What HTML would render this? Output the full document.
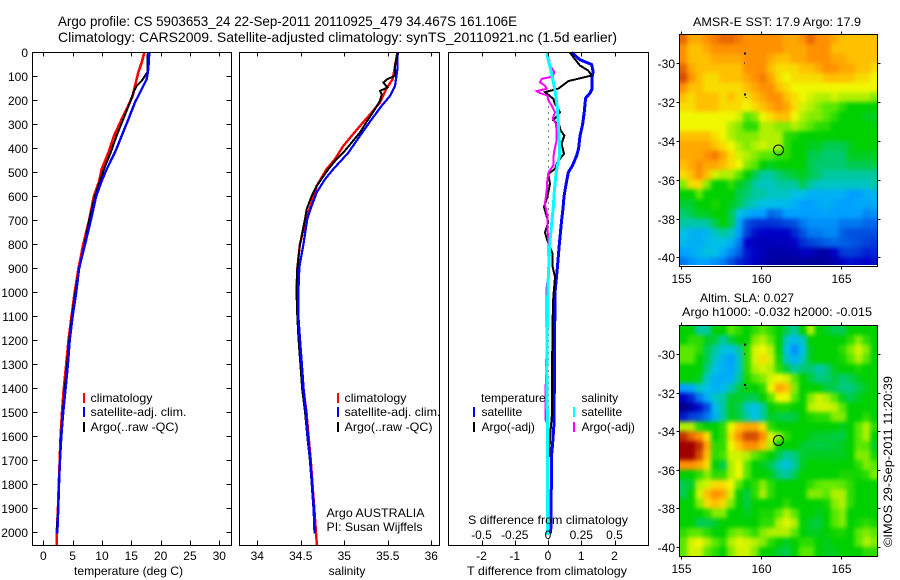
<!DOCTYPE html>
<html lang="en">
<head>
<meta charset="utf-8">
<title>Argo profile</title>
<style>
html,body{margin:0;padding:0;background:#fff;}
svg{display:block;font-family:"Liberation Sans",sans-serif;}
text{fill:#000;font-size:12px;}
.title{font-size:14px;}
.crisp{shape-rendering:crispEdges;}
</style>
</head>
<body>
<svg id="chart" xmlns="http://www.w3.org/2000/svg" width="900" height="580" viewBox="0 0 900 580">
<defs>
<filter id="map-smooth" filterUnits="userSpaceOnUse" x="650" y="10" width="250" height="565" color-interpolation-filters="sRGB">
<feGaussianBlur stdDeviation="2"/>
</filter>
<clipPath id="sst-clip"><rect x="680" y="35" width="197" height="230"/></clipPath>
<clipPath id="sla-clip"><rect x="680" y="326" width="197" height="230"/></clipPath>
</defs>
<rect x="0" y="0" width="900" height="580" fill="#fff"/>
<text class="title" x="58" y="26" textLength="459" lengthAdjust="spacingAndGlyphs">Argo profile: CS 5903653_24 22-Sep-2011 20110925_479 34.467S 161.106E</text>
<text class="title" x="58" y="42" textLength="559" lengthAdjust="spacingAndGlyphs">Climatology: CARS2009. Satellite-adjusted climatology: synTS_20110921.nc (1.5d earlier)</text>
<g id="marks"></g>

<text x="74" y="575" textLength="109" lengthAdjust="spacingAndGlyphs">temperature (deg C)</text>
<text x="347" y="575" text-anchor="middle">salinity</text>
<text x="467" y="575" textLength="160" lengthAdjust="spacingAndGlyphs">T difference from climatology</text>
<text x="468" y="524" textLength="160" lengthAdjust="spacingAndGlyphs">S difference from climatology</text>

<g class="crisp">
<rect x="83" y="393" width="2" height="10" fill="#f00"/>
<rect x="83" y="407" width="2" height="10" fill="#00f"/>
<rect x="83" y="422" width="2" height="10" fill="#000"/>
</g>
<text x="90.5" y="402" textLength="62" lengthAdjust="spacingAndGlyphs">climatology</text>
<text x="90.5" y="416" textLength="96" lengthAdjust="spacingAndGlyphs">satellite-adj. clim.</text>
<text x="90.5" y="431" textLength="88" lengthAdjust="spacingAndGlyphs">Argo(..raw -QC)</text>

<g class="crisp">
<rect x="337" y="393" width="2" height="10" fill="#f00"/>
<rect x="337" y="407" width="2" height="10" fill="#00f"/>
<rect x="337" y="422" width="2" height="10" fill="#000"/>
</g>
<text x="344.5" y="402" textLength="62" lengthAdjust="spacingAndGlyphs">climatology</text>
<text x="344.5" y="416" textLength="96" lengthAdjust="spacingAndGlyphs">satellite-adj. clim.</text>
<text x="344.5" y="431" textLength="88" lengthAdjust="spacingAndGlyphs">Argo(..raw -QC)</text>
<text x="326.5" y="517" textLength="98" lengthAdjust="spacingAndGlyphs">Argo AUSTRALIA</text>
<text x="326.5" y="531" textLength="96" lengthAdjust="spacingAndGlyphs">PI: Susan Wijffels</text>

<text x="481" y="402">temperature</text>
<text x="581.5" y="402">salinity</text>
<g class="crisp">
<rect x="473" y="407" width="2" height="10" fill="#00f"/>
<rect x="473" y="422" width="2" height="10" fill="#000"/>
<rect x="573" y="407" width="2" height="10" fill="#0ff"/>
<rect x="573" y="422" width="2" height="10" fill="#f0f"/>
</g>
<text x="481.5" y="416">satellite</text>
<text x="481.5" y="431">Argo(-adj)</text>
<text x="581.5" y="416">satellite</text>
<text x="581.5" y="431">Argo(-adj)</text>

<text x="693" y="26" textLength="168" lengthAdjust="spacingAndGlyphs">AMSR-E SST: 17.9 Argo: 17.9</text>
<text x="700" y="302" textLength="94" lengthAdjust="spacingAndGlyphs">Altim. SLA: 0.027</text>
<text x="682" y="316" textLength="190" lengthAdjust="spacingAndGlyphs">Argo h1000: -0.032 h2000: -0.015</text>
<text transform="translate(892,547) rotate(-90)" textLength="171" lengthAdjust="spacingAndGlyphs">©IMOS 29-Sep-2011 11:20:39</text>
</svg>

<script>
// ---------- profile data ----------
const depthTicks = [0,100,200,300,400,500,600,700,800,900,1000,1100,1200,1300,1400,1500,1600,1700,1800,1900,2000];
const tempTicks = [0,5,10,15,20,25,30];
const salTicks = [34,34.5,35,35.5,36];
const salTickLabels = ['34','34.5','35','35.5','36'];
const diffTicks = [-2,-1,0,1,2];
const diffSTickLabels = ['-0.5','-0.25','0','0.25','0.5'];

const tClimDepth = [0,42,83,139,181,236,278,347,417,486,535,600,700,800,900,1000,1100,1200,1300,1400,1500,1600,1700,1800,1900,2000,2055];
const tClimValue = [17.22,16.77,16.2,15.63,15.23,14.21,13.36,12.05,11.09,9.95,9.55,8.6,7.8,6.8,6,5.35,4.8,4.3,3.9,3.5,3.19,2.95,2.8,2.65,2.5,2.3,2.3];
const tSatDepth = [0,69,111,139,167,208,278,347,417,486,535,600,700,800,900,1000,1100,1200,1300,1400,1500,1600,1700,1800,1900,2005];
const tSatValue = [18.07,17.9,17.62,17.05,16.48,15.63,14.5,13.36,12.2,10.8,9.95,9,8.1,7.1,6.1,5.6,5,4.5,4.2,3.8,3.4,3.07,2.85,2.68,2.56,2.39];
const tArgoDepth = [0,14,83,118,139,167,208,278,347,417,486,535,600,700,800,900,1000,1100,1200,1300,1400,1500,1600,1700,1800,1900,1985];
const tArgoValue = [17.9,17.73,17.73,16.77,15.91,15.35,14.78,13.64,12.5,11.48,10.35,9.66,8.8,7.8,7,6.1,5.45,4.9,4.4,4.05,3.65,3.3,3,2.82,2.65,2.52,2.3];

const sClimDepth = [0,56,111,153,208,250,306,347,389,444,486,556,625,694,800,900,1000,1100,1200,1300,1400,1500,1600,1700,1800,1900,2000,2055];
const sClimValue = [35.61,35.583,35.556,35.48,35.41,35.315,35.18,35.085,34.989,34.893,34.797,34.683,34.625,34.56,34.49,34.46,34.45,34.47,34.49,34.51,34.53,34.565,34.59,34.615,34.635,34.655,34.675,34.685];
const sSatDepth = [0,69,139,181,222,278,347,417,486,528,583,639,694,800,900,1000,1100,1200,1300,1400,1500,1600,1700,1800,1900,2005];
const sSatValue = [35.614,35.61,35.583,35.525,35.43,35.315,35.18,35.047,34.874,34.778,34.683,34.625,34.575,34.53,34.48,34.47,34.47,34.49,34.51,34.53,34.56,34.58,34.61,34.63,34.65,34.66];
const sArgoDepth = [0,56,97,111,125,146,160,174,201,236,278,333,375,417,444,486,556,597,653,694,800,900,1000,1100,1200,1300,1400,1500,1600,1700,1800,1900,1985];
const sArgoValue = [35.614,35.583,35.583,35.495,35.449,35.495,35.41,35.43,35.41,35.353,35.276,35.18,35.085,34.989,34.912,34.817,34.683,34.625,34.568,34.548,34.49,34.46,34.45,34.46,34.475,34.495,34.515,34.55,34.575,34.605,34.625,34.645,34.66];

const dtSatDepth = [0,30,50,80,100,150,170,190,250,300,350,400,430,470,500,550,600,650,700,800,900,1000,1200,1400,1547,1623,1672,2005];
const dtSatValue = [0.71,0.96,1.31,1.36,1.33,1.33,1.26,1.13,1.09,1.04,0.96,0.92,0.86,0.74,0.61,0.54,0.48,0.45,0.41,0.34,0.28,0.21,0.2,0.19,0.18,0.14,0.11,0.08];
const dtArgoDepth = [0,19,54,75,96,119,151,165,193,214,249,283,304,325,346,381,422,457,485,506,547,603,644,707,749,783,839,894,936,1019,1100,1325,1506,1603,1686];
const dtArgoValue = [0.66,0.76,0.96,1.21,1.31,0.61,0.31,-0.09,0.16,0.21,0.36,0.16,0.34,0.38,0.49,0.41,0.48,0.28,0.21,0.01,0.06,-0.02,-0.12,0.01,-0.09,-0.02,0.14,0.14,0.21,0.16,0.14,0.12,0.12,0.06,0.04];
const dsArgoDepth = [3,33,54,82,100,110,124,138,151,161,169,179,200,221,249,276,297,332,367,408,436,471,499,533,575,631,679,728,783,839,922,978,1033,1200,1320,1420,1530,1560,1650];
const dsArgoValue = [-0.005,0.01,0.015,0.048,0.035,-0.048,-0.06,-0.023,-0.01,-0.085,-0.06,-0.005,0.003,0.028,0.053,0.035,0.06,0.065,0.065,0.048,0.04,0.04,0.003,-0.005,-0.01,-0.023,-0.005,-0.005,0.003,0.003,0.003,-0.01,-0.01,-0.01,-0.015,-0.018,-0.018,0.003,0.003];
const dsSatDepth = [3,89,158,228,297,367,436,471,506,575,644,714,783,922,1033,1325,1500,2010];
const dsSatValue = [-0.01,0.028,0.053,0.07,0.078,0.085,0.085,0.07,0.06,0.048,0.04,0.028,0.015,0.003,-0.003,-0.01,-0.005,-0.005];

// ---------- map data: colour level per half-degree cell, rows north to south ----------
const lonTicks = [155,160,165];
const latTicks = [-30,-32,-34,-36,-38,-40];
const mapRowsLat0 = -28.5;
const mapColsLon0 = 154.87;
const cellDeg = 0.5;
const argoLon = 161.1;
const argoLat = -34.47;
const islandLon = [159,159,159,159.1];
const islandLat = [-29.5,-30,-31.6,-31.8];

const sstGrid = [
[12,10.5,10.5,11,11.5,12,12,11.5,11,11,11,11,11,10.5,10.5,11,12,11,11,10.5,10,10,10,10,10],
[11,10,10,10.5,11,11,11,11,11,11,11,11,11,10.5,10.5,10.5,11,11,11,10,10,10,10,10,10],
[11,10,10,10,10.5,10.5,10.5,10.5,11,11,11,10.5,10,10,10.5,10.5,11,11,11,10.5,10.5,10,10,10,10],
[12,10.5,10,10,10,10,10,10,11,11,11,10,9.5,9.5,9.5,10,10,10.5,11,11,10.5,10.5,10,10,9.5],
[12.5,11,10,9.5,9.5,10,10,10,10.5,11,11.5,10.5,9.5,9,9.5,9.5,9.5,9.5,10,10,10,10,9.5,9.5,9],
[11,10,10,9.5,9.5,9.5,9.5,9.5,10,10.5,11,11,10,9.5,9,9,9,9,9,9,9,9,9,9,9],
[10,9.5,10,10,10,9.5,10,9.5,9.5,10,10.5,11,11,10,9.5,9,8.5,8,8,8.5,8,8,8,8,7.5],
[9.5,9.5,10,10,10,9.5,9.5,9.5,9,9.5,10,10.5,11,10.5,9.5,8.5,8,7.5,7,7,6.5,6,6,6,6],
[9,9,9,9,9,9,9,8.5,7,7.5,9,9.5,10,10,9,8,7.5,7.5,7,6.5,6,6,6,5.8,5.8],
[9,9,9,9,9,9,8,7.5,6.5,6.5,8,8,7.5,7.5,8,7.5,7,6.5,6.5,6,6,6,6,6,6],
[10,10,10,10,9.5,9,8,7.5,7.5,7.5,8,8,8,6.5,6.3,6,6,6,6,6,6,6,6,6,6],
[10.5,10.5,10.5,10.5,10,9.5,9,8,7.5,8,8.5,8,8,6.5,6,6,5.8,5.8,5.5,5.5,5.5,5.8,6,6,6],
[10.5,10.5,10.5,11,11.5,10.5,9.5,8.5,8,7.5,7,7,6.5,6.5,6,6,5.5,5.5,5.3,5.3,5.3,5.8,5.8,5.8,5.8],
[10,10.5,11,10.5,10.5,10,9.5,9,7.5,7,6,5.8,6,6,6,6,5.5,5.3,5.3,5.3,5.3,5.5,5.5,5.5,5.5],
[9.5,10,11,10,8.5,8,8,7,6,5.5,5,5,5.3,5.5,5.7,5.8,5.5,5.3,5,5,5,5,5,5,5],
[7.5,9.5,9.5,7.5,6,6,6.5,5.8,5.5,5,4.5,4.5,5,5,5,5.5,5,4.5,4.5,4.5,4.5,4.5,4.5,4.5,5],
[6,6,7,6,6,6,6,5.5,5.3,5,5,4.5,4.5,4.5,4,4,3.5,3.5,3.5,3.5,3.5,3,3,3.5,3.5],
[5.7,5.7,6,6,6.3,6,5.8,5.5,5,4.5,4,4,3.8,3.8,3.5,3,3,3.3,3.5,3.2,3,3,3.3,3.2,3.3],
[5.3,5.5,5.8,5.8,6,6,5.5,4,3.5,3,3,2.3,2.5,3,3,3,3,3,3.2,3,3,3,3,2.7,2.8],
[5,4.8,4.8,5,5.5,6,5.5,3.3,2,1.7,1.6,1.6,1.7,1.9,2,2.5,2.8,2.8,2.8,2.8,2.5,2.5,2.5,2.3,2.3],
[4,3.6,3.5,3.7,4.5,5,4.5,3,1.8,1.2,1,1,1,1,1.5,2,2.5,2.5,2.7,2.7,2.2,2,2,2,2],
[3.8,3.5,3.4,3.8,4,4,3.5,2.6,1,0.8,0.7,0.8,0.8,0.8,1,1.6,1.8,2,2.2,2.3,2.2,2.1,2,1.8,1.7],
[3,3.3,3.7,4.2,4,3.3,2.7,2.2,1.3,1,0.8,0.5,0.5,0.5,0.6,0.9,0.8,0.4,0.5,1,1.7,1.8,1.7,1.4,1.5],
[2.5,2.8,3.1,3,2.8,2.6,2,1.5,1.2,0.9,0.6,0.4,0.3,0.3,0.3,0.3,0.3,0.2,0.3,0.5,0.9,1.2,1.1,1,1.2]
];

const slaGrid = [
[6,6,5,5,6,6,7,6.5,6,6.5,7,6.5,6,5.5,5,6,8,6,5.8,5.5,5.5,6,6,6,6],
[6,6.5,6.5,5.8,5.6,5,5.6,6,6,7.5,8,7,6,4.5,3.8,4.5,6,6,6,6,6,6.5,7.5,6.5,6],
[7,7,6.5,5.5,5,4.2,4,5,6.5,8.5,9,8,6,4,2.8,4,5.8,6,6,6,6.5,7.5,8.5,7.5,6],
[7,7,6,5.5,4.5,3.6,3,4.5,6.5,8.5,9.5,8.5,6.2,4.5,3.5,4.5,5.8,6,6,6,6.2,7,8,7,6],
[6,6,6,5.2,4,3.5,3.2,4.5,6.5,8,8.5,8,6.5,5.6,5,5.3,5.3,4.8,5.2,5.8,6,6,6.3,6,6],
[6,6,5.8,4.5,3.5,3.3,3.5,5,6.3,7,7.5,8.5,9,8.5,7,6,5.6,5.2,5.3,5.6,5.3,5.5,5.8,6,6],
[3,3.3,4.5,4,3.5,3.8,4.8,5.5,6,6,6.5,9,10.5,10,7.5,6,6,6,5.6,5.5,5.2,5.2,5.5,5.8,6],
[1,1.5,2.5,3.5,4.5,5,5.7,5.8,5.5,5.5,6,7,9,9,7,6,7.5,8.5,8,7,5.8,5.5,5.8,6,6],
[0,0.5,1.2,2,3.8,5,5.8,5.5,4.5,4,5,6,6.3,6.3,6,6,8,8.5,8.5,8.2,7,6,6,6,6],
[1.3,1.8,2,2.5,3.5,5,5.8,5.6,5,4,5,5.8,5.6,5.5,5.6,6,6.3,6.5,6.5,7.5,7.5,6,6,6.5,6],
[8,8,6.5,6,6,6.5,9,10,10.5,10.5,9.5,6.5,6,6,6,6,6,6,6,6,5.8,6,7,8,6.5],
[13,12,11,9.5,6,6.5,9.5,11,12.5,12.5,11,8.5,7.5,6.5,6,6,5.8,5.7,5.7,5.6,5.6,6,7,8,6],
[14.5,14.5,13,10.5,6.5,6.5,9,10,11,11,10,8,6,6,6,5.7,5.6,5.6,5.6,5.7,5.8,6,7,7,5.8],
[14.5,14.5,12.5,10,6.5,6.8,8.5,8.5,8,7,6.5,6,5.5,5,5.2,5.7,5.8,5.8,5.8,5.8,5.8,6,7.5,7.5,6.2],
[11,11,10.5,9.5,6,5.5,8,9,7,6,5.8,5.5,4.7,4.2,5,5.8,6,6,6,6,6,6,6.5,7.5,7],
[6,6,6.5,7.5,6.5,6.5,8,9,7,6,6,5.8,5.2,5,5.5,6,6,6,6,6,6.3,6.3,6.2,6.5,7.5],
[5.5,5.7,8,8.5,9.5,9.5,9,7,6,6.5,7.5,6.5,6,6,6,6,6.5,7,7.2,7.2,7,6.5,6,6,6],
[5.5,6,8.5,10,11,10.5,8.5,6,5.6,6.5,8,6.5,6,6,6,6,7.5,7.5,7,8,8,6.5,6,6,6],
[6,6,7.5,9.5,10,9.5,7.5,6,5.6,6,6,6,6,6.5,6,6,6,6,6.2,7.5,8,6.5,6,6,6],
[6,6,6,6.5,7.5,7.5,6,6,5.8,6,6.3,6.3,7,8,7,6,6,5.8,6,7,7.5,6,6,6,6],
[6,6,5.5,5.5,5.7,6,6,6,6,6,6.5,6.5,8,8.7,8,6,5.7,5.6,6,7,7.5,6,6.2,6.5,6.2],
[6.5,7,7,6.5,6,6,7,7.5,7,6.5,7.5,8,8,8,7,6,5.8,5.8,6,6.2,6.3,6,7,7.5,7],
[7,8.5,9,8,7,6.5,8,8.7,8.5,8,7.5,6.5,6,5.8,6,6.5,6.5,6,5.8,6,6,6,7,8,7.5],
[7,8.5,8.5,7,6.5,6,7.5,8.5,8.5,7.5,6,6,5.7,5.5,6,7,7,6,5.8,5.8,6,6,6,6.5,6.5]
];

const paletteR = [0,0,0,0,0,0,0,88,176,240,255,255,232,192,160];
const paletteG = [0,0,80,160,192,200,208,232,240,248,192,144,104,48,0];
const paletteB = [140,200,224,255,232,160,0,0,0,0,0,0,0,0,0];

// ---------- axis functions ----------
const depthY = d => 52.5 + 0.24 * d;
const tempX = t => 43.3 + 5.867 * t;
const salX = s => 257.3 + 87 * (s - 34);
const diffTX = v => 548 + 33.25 * v;
const diffSX = v => 548 + 133 * v;
const lonX = l => 681.3 + (l - 155) * 15.93;
const sstLatY = l => 63.3 + (-30 - l) * 19.4;
const slaLatY = l => 354.3 + (-30 - l) * 19.27;

const NS = 'http://www.w3.org/2000/svg';
const root = document.getElementById('marks');

function makeGroup(parent, name) {
  const el = document.createElementNS(NS, 'g');
  
  
  parent.appendChild(el);
  return el;
}

function drawSegment(parent, name, x1, y1, x2, y2) {
  const el = document.createElementNS(NS, 'line');
  
  
  el.setAttribute('x1', x1);
  el.setAttribute('y1', y1);
  el.setAttribute('x2', x2);
  el.setAttribute('y2', y2);
  el.setAttribute('stroke', '#000');
  el.setAttribute('stroke-width', 1);
  el.setAttribute('shape-rendering', 'crispEdges');
  parent.appendChild(el);
}

function drawFrame(parent, name, x, y, w, h) {
  const el = document.createElementNS(NS, 'rect');
  
  
  el.setAttribute('x', x);
  el.setAttribute('y', y);
  el.setAttribute('width', w);
  el.setAttribute('height', h);
  el.setAttribute('fill', 'none');
  el.setAttribute('stroke', '#000');
  el.setAttribute('stroke-width', 1);
  el.setAttribute('shape-rendering', 'crispEdges');
  parent.appendChild(el);
}

function drawLabel(parent, name, x, y, anchor, str) {
  const el = document.createElementNS(NS, 'text');
  
  
  el.setAttribute('x', x);
  el.setAttribute('y', y);
  el.setAttribute('text-anchor', anchor);
  el.textContent = str;
  parent.appendChild(el);
}

function drawProfile(parent, name, depths, values, xScale, color, width) {
  const el = document.createElementNS(NS, 'polyline');
  
  
  el.setAttribute('points', depths.map((d, i) => xScale(values[i]).toFixed(1) + ',' + depthY(d).toFixed(1)).join(' '));
  el.setAttribute('fill', 'none');
  el.setAttribute('stroke', color);
  el.setAttribute('stroke-width', width);
  el.setAttribute('shape-rendering', 'crispEdges');
  parent.appendChild(el);
}

function levelColor(level) {
  const v = Math.max(0, Math.min(14, level));
  const i = Math.min(13, Math.floor(v));
  const f = v - i;
  const mix = p => Math.round(p[i] + (p[i + 1] - p[i]) * f);
  return 'rgb(' + mix(paletteR) + ',' + mix(paletteG) + ',' + mix(paletteB) + ')';
}

// ---------- profile panels ----------
const panelTop = 52.5, panelBottom = 545.5;

function drawXTicks(parent, ticks, scale) {
  ticks.forEach(t => {
    const x = Math.round(scale(t)) + 0.5;
    drawSegment(parent, 'x-tick-top', x, panelTop, x, panelTop + 4);
    drawSegment(parent, 'x-tick-bottom', x, panelBottom, x, panelBottom - 5);
  });
}

// temperature panel
const tPanel = makeGroup(root, 'temperature-panel');
drawProfile(tPanel, 'temperature-climatology-line', tClimDepth, tClimValue, tempX, '#f00', 2.6);
drawProfile(tPanel, 'temperature-argo-line', tArgoDepth, tArgoValue, tempX, '#000', 2);
drawProfile(tPanel, 'temperature-satellite-line', tSatDepth, tSatValue, tempX, '#00f', 2.4);
drawFrame(tPanel, 'temperature-panel-frame', 32.5, panelTop, 199, panelBottom - panelTop);
drawXTicks(tPanel, tempTicks, tempX);
tempTicks.forEach(t => drawLabel(tPanel, 'temperature-tick-label', tempX(t), 560, 'middle', String(t)));
depthTicks.forEach(d => {
  const y = Math.round(depthY(d) - 0.5) + 0.5;
  drawSegment(tPanel, 'depth-tick-left', 32.5, y, 37.5, y);
  drawSegment(tPanel, 'depth-tick-right', 231.5, y, 226.5, y);
  drawLabel(tPanel, 'depth-tick-label', 28, y + 4.5, 'end', String(d));
});

// salinity panel
const sPanel = makeGroup(root, 'salinity-panel');
drawProfile(sPanel, 'salinity-climatology-line', sClimDepth, sClimValue, salX, '#f00', 2.4);
drawProfile(sPanel, 'salinity-satellite-line', sSatDepth, sSatValue, salX, '#00f', 2.2);
drawProfile(sPanel, 'salinity-argo-line', sArgoDepth, sArgoValue, salX, '#000', 2);
drawProfile(sPanel, 'salinity-deep-satellite-line', sSatDepth.filter(d => d >= 900), sSatValue.filter((v, i) => sSatDepth[i] >= 900), salX, '#00f', 2.6);
drawFrame(sPanel, 'salinity-panel-frame', 239.5, panelTop, 200, panelBottom - panelTop);
drawXTicks(sPanel, salTicks, salX);
salTicks.forEach((s, i) => drawLabel(sPanel, 'salinity-tick-label', salX(s), 560, 'middle', salTickLabels[i]));

// difference panel
const dPanel = makeGroup(root, 'difference-panel');
depthTicks.forEach(d => {
  if (d >= 150) {
    const y = Math.round(depthY(d) - 0.5) + 0.5;
    drawSegment(dPanel, 'zero-line-dot', 548.5, y, 548.5, y + 1);
    drawSegment(dPanel, 'zero-line-dot', 548.5, y + 6, 548.5, y + 7);
    drawSegment(dPanel, 'zero-line-dot', 548.5, y + 12, 548.5, y + 13);
    drawSegment(dPanel, 'zero-line-dot', 548.5, y + 18, 548.5, y + 19);
  }
});
drawProfile(dPanel, 't-difference-satellite-line', dtSatDepth, dtSatValue, diffTX, '#00f', 3);
drawProfile(dPanel, 't-difference-argo-line', dtArgoDepth, dtArgoValue, diffTX, '#000', 2);
drawProfile(dPanel, 's-difference-argo-line', dsArgoDepth, dsArgoValue, diffSX, '#f0f', 2);
drawProfile(dPanel, 's-difference-satellite-line', dsSatDepth, dsSatValue, diffSX, '#0ff', 3);
drawFrame(dPanel, 'difference-panel-frame', 448.5, panelTop, 200, panelBottom - panelTop);
drawXTicks(dPanel, diffTicks, diffTX);
diffTicks.forEach((t, i) => {
  drawLabel(dPanel, 't-difference-tick-label', diffTX(t), 560, 'middle', String(t));
  drawLabel(dPanel, 's-difference-tick-label', diffTX(t), 539, 'middle', diffSTickLabels[i]);
});

// ---------- maps ----------
function drawMap(name, grid, latY, clipId, frameTop, frameBottom, labelY) {
  const g = makeGroup(root, name);
  const clipped = makeGroup(g, name + '-image');
  clipped.setAttribute('clip-path', 'url(#' + clipId + ')');
  const cells = makeGroup(clipped, name + '-cells');
  cells.setAttribute('filter', 'url(#map-smooth)');
  const lastRow = grid.length - 1;
  grid.forEach((row, r) => {
    const lastCol = row.length - 1;
    row.forEach((level, c) => {
      // outer cells are extended past the clip so the smoothing does not fade at the frame
      const x0 = lonX(mapColsLon0 + c * cellDeg) - (c === 0 ? 10 : 0);
      const x1 = lonX(mapColsLon0 + (c + 1) * cellDeg) + (c === lastCol ? 10 : 0.6);
      const y0 = latY(mapRowsLat0 - r * cellDeg) - (r === 0 ? 10 : 0);
      const y1 = latY(mapRowsLat0 - (r + 1) * cellDeg) + (r === lastRow ? 10 : 0.6);
      const cell = document.createElementNS(NS, 'rect');
      
      
      cell.setAttribute('x', x0.toFixed(2));
      cell.setAttribute('y', y0.toFixed(2));
      cell.setAttribute('width', (x1 - x0).toFixed(2));
      cell.setAttribute('height', (y1 - y0).toFixed(2));
      cell.setAttribute('fill', levelColor(level));
      cells.appendChild(cell);
    });
  });
  islandLon.forEach((lon, i) => {
    const dot = document.createElementNS(NS, 'rect');
    
    
    dot.setAttribute('x', lonX(lon) - 1);
    dot.setAttribute('y', latY(islandLat[i]) - 1);
    dot.setAttribute('width', i === 0 || i === 2 ? 2 : 1);
    dot.setAttribute('height', i === 0 || i === 2 ? 2 : 1);
    dot.setAttribute('fill', '#000');
    dot.setAttribute('shape-rendering', 'crispEdges');
    g.appendChild(dot);
  });
  const marker = document.createElementNS(NS, 'circle');
  
  
  marker.setAttribute('cx', lonX(argoLon));
  marker.setAttribute('cy', latY(argoLat));
  marker.setAttribute('r', 5);
  marker.setAttribute('fill', 'none');
  marker.setAttribute('stroke', '#000');
  marker.setAttribute('stroke-width', 1);
  g.appendChild(marker);
  drawFrame(g, name + '-frame', 679.5, frameTop, 198, frameBottom - frameTop);
  lonTicks.forEach(l => {
    const x = Math.round(lonX(l)) + 0.5;
    drawSegment(g, 'lon-tick-top', x, frameTop, x, frameTop - 3);
    drawSegment(g, 'lon-tick-bottom', x, frameBottom, x, frameBottom + 3);
    drawLabel(g, 'lon-tick-label', x, labelY, 'middle', String(l));
  });
  latTicks.forEach(l => {
    const y = Math.round(latY(l)) + 0.5;
    drawSegment(g, 'lat-tick-left', 679.5, y, 676.5, y);
    drawSegment(g, 'lat-tick-right', 877.5, y, 880.5, y);
    drawLabel(g, 'lat-tick-label', 675, y + 4.5, 'end', String(l));
  });
}

drawMap('sst-map', sstGrid, sstLatY, 'sst-clip', 34.5, 266.5, 283);
drawMap('sla-map', slaGrid, slaLatY, 'sla-clip', 325.5, 556.5, 573);
</script>
</body>
</html>
